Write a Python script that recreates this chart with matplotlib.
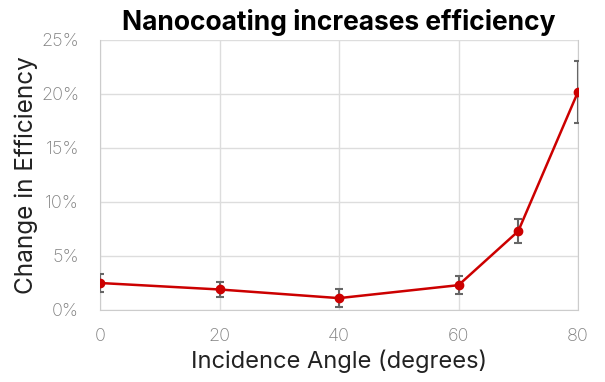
import matplotlib
matplotlib.use("Agg")
import matplotlib.pyplot as plt
from matplotlib.ticker import FuncFormatter

# incidence angle (degrees) vs change in efficiency (%)
angle = [0, 20, 40, 60, 70, 80]
change = [2.5, 1.9, 1.1, 2.3, 7.3, 20.2]
err = [0.8, 0.7, 0.8, 0.85, 1.1, 2.9]
yticks = [0, 5, 10, 15, 20, 25]
xticks = [0, 20, 40, 60, 80]

plt.rcParams['font.family'] = ['Inter', 'DejaVu Sans']

fig = plt.figure(figsize=(6.05, 3.82), dpi=100)
ax = fig.add_axes([100/605, 72/382, 478/605, 270/382])

ax.errorbar(angle, change, yerr=err, color='#cc0000', lw=1.8,
            marker='o', ms=6, ecolor='#666666', elinewidth=1.5,
            capsize=3, capthick=1.5, zorder=3)

ax.set_xlim(0, 80)
ax.set_ylim(0, 25)
ax.set_xticks(xticks)
ax.set_yticks(yticks)
ax.yaxis.set_major_formatter(FuncFormatter(lambda v, p: '%d%%' % v))
ax.grid(True, color='#dddddd', lw=1)
ax.set_axisbelow(True)
for s in ['left', 'bottom', 'right']:
    ax.spines[s].set_color('#cccccc')
ax.spines['top'].set_visible(False)
ax.tick_params(length=0, labelsize=13, labelcolor='#808080')
ax.tick_params(axis='x', pad=13)
ax.tick_params(axis='y', pad=15)
for lab in ax.get_xticklabels() + ax.get_yticklabels():
    lab.set_fontweight('light')

ax.set_xlabel('Incidence Angle (degrees)', fontsize=17, color='#222222', labelpad=3)
ax.set_ylabel('Change in Efficiency', fontsize=17.5, color='#222222', labelpad=2)
ax.set_title('Nanocoating increases efficiency', fontsize=19, fontweight='bold', pad=7)

fig.savefig('out.png', dpi=100)
